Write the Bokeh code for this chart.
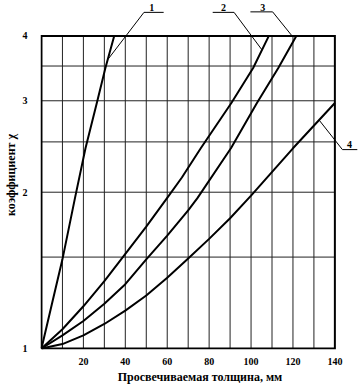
from bokeh.plotting import figure
from bokeh.models import Range1d, FixedTicker, Title
from bokeh.core.properties import value
from bokeh.embed import file_html
from bokeh.resources import INLINE

# ---- data (thickness in mm, coefficient chi) ----
thickness_1 = [0, 5, 10, 16, 21, 26.4, 30.5, 34.7]
chi_1 = [1, 1.22, 1.485, 1.95, 2.43, 2.97, 3.47, 4.0]

thickness_2 = [0, 10, 20, 30, 38, 50, 60, 67, 76, 90.6, 101, 108.5]
chi_2 = [1, 1.089, 1.206, 1.348, 1.485, 1.717, 1.95, 2.135, 2.43, 2.97, 3.47, 4.0]

thickness_3 = [0, 10, 20, 30, 40, 50, 60, 70, 74.4, 90.4, 102.8, 113, 121.6]
chi_3 = [1, 1.06, 1.13, 1.22, 1.33, 1.485, 1.65, 1.845, 1.948, 2.43, 2.97, 3.47, 4.0]

thickness_4 = [0, 10, 20, 30, 40, 50, 60, 70, 80, 90, 100, 120, 140]
chi_4 = [1, 1.02, 1.06, 1.115, 1.183, 1.265, 1.369, 1.49, 1.626, 1.782, 1.97, 2.43, 2.97]

x_ticks = [20, 40, 60, 80, 100, 120, 140]
y_ticks = [1, 2, 3, 4]
x_grid = [10, 20, 30, 40, 50, 60, 70, 80, 90, 100, 110, 120, 130]
y_grid = [1.5, 2, 2.5, 3, 3.5]
x_min, x_max = 0, 140
y_min, y_max = 1, 4

x_title = "Просвечиваемая толщина, мм"
y_title = "коэффициент χ"

curve_names = ["1", "2", "3", "4"]
leader_x = [[31.6, 48.9, 58.3], [105.2, 91.9, 81.7], [120.0, 110.3, 99.7], [132.6, 143.6, 150.7]]
leader_y = [[3.60, 4.44, 4.44], [3.76, 4.44, 4.44], [3.98, 4.45, 4.45], [2.75, 2.416, 2.416]]
name_x = [52.6, 86.8, 105.6, 147.0]
name_y = [4.46, 4.46, 4.47, 2.43]

FONT = "Liberation Serif"

p = figure(width=359, height=386, y_axis_type="log",
           x_range=Range1d(-0.47, 151.75), y_range=Range1d(0.99565, 4.68),
           output_backend="svg", toolbar_location=None,
           min_border_left=35, min_border_right=0, min_border_top=0, min_border_bottom=31)
p.outline_line_color = None
p.xgrid.visible = False
p.ygrid.visible = False

for ax in (p.xaxis[0], p.yaxis[0]):
    ax.axis_line_color = None
    ax.major_tick_line_color = None
    ax.minor_tick_line_color = None
    ax.major_label_text_font = FONT
    ax.major_label_text_font_style = "bold"
    ax.major_label_text_font_size = "10px"
    ax.major_label_text_color = "black"

p.xaxis[0].ticker = FixedTicker(ticks=x_ticks)
p.xaxis[0].major_label_standoff = 2
p.xaxis[0].axis_label = x_title
p.xaxis[0].axis_label_text_font = FONT
p.xaxis[0].axis_label_text_font_style = "bold"
p.xaxis[0].axis_label_text_font_size = "12px"
p.xaxis[0].axis_label_text_color = "black"
p.xaxis[0].axis_label_standoff = 2

p.yaxis[0].ticker = FixedTicker(ticks=y_ticks)
p.yaxis[0].major_label_overrides = {t: str(t) for t in y_ticks}
p.yaxis[0].major_label_standoff = 7

p.add_layout(Title(text=y_title, align="center", offset=37, standoff=3,
                   text_font=FONT, text_font_style="bold", text_font_size="12px",
                   text_color="black"), "left")

# grid
p.segment(x0=x_grid, y0=y_min, x1=x_grid, y1=y_max, line_color="#222222", line_width=1)
p.segment(x0=x_min, y0=y_grid, x1=x_max, y1=y_grid, line_color="#222222", line_width=1)
# frame
p.line([x_min, x_max, x_max, x_min, x_min], [y_min, y_min, y_max, y_max, y_min],
       line_color="black", line_width=2, line_join="miter")

# curves
for xs, ys in ((thickness_1, chi_1), (thickness_2, chi_2), (thickness_3, chi_3), (thickness_4, chi_4)):
    p.line(xs, ys, line_color="black", line_width=2, line_join="round")

# leaders and curve numbers
p.multi_line(leader_x, leader_y, line_color="black", line_width=1)
p.text(x=name_x, y=name_y, text=curve_names, text_font=value(FONT), text_font_style="bold",
       text_font_size="10px", text_align="center", text_baseline="bottom", text_color="black")

open("out.html", "w").write(file_html(p, INLINE))
